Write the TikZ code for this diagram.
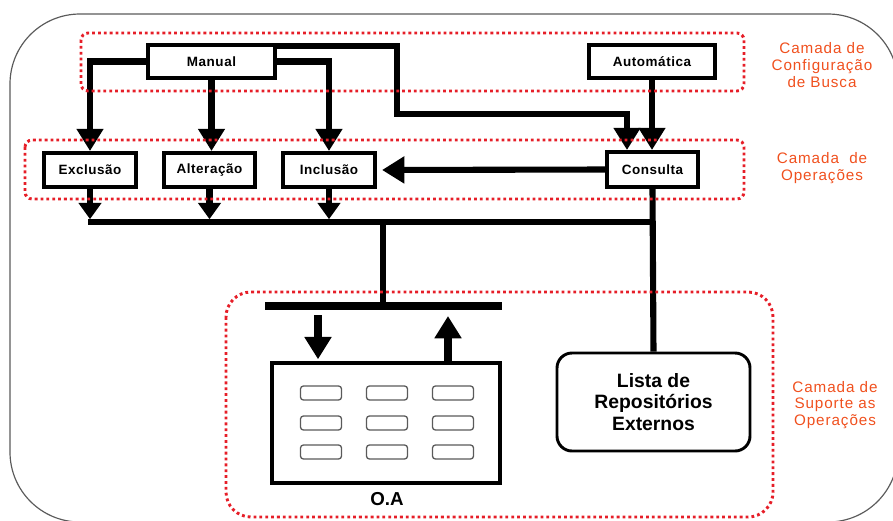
\documentclass[tikz,border=0pt]{standalone}
\usepackage{fontspec}
\setmainfont{Liberation Sans}
\usetikzlibrary{arrows.meta}
\definecolor{rougeCamada}{RGB}{230,30,40}
\definecolor{orangeTexte}{RGB}{240,80,30}
\definecolor{grisBord}{RGB}{90,90,90}
\begin{document}
\begin{tikzpicture}[x=0.03cm,y=-0.03cm]
	% Styles (MODIFIABLES)
	\tikzstyle{fleche}=[line width=5.2pt,-{Triangle[width=22pt,length=19pt]}]
	\tikzstyle{flechecourte}=[line width=5.2pt,-{Triangle[width=19pt,length=14pt]},shorten >=2.4pt]
	\tikzstyle{trait}=[line width=5.2pt]
	\tikzstyle{bloco}=[draw,line width=3.4pt,fill=white,inner sep=0pt,font=\bfseries\fontsize{11.5}{13}\selectfont\addfontfeature{LetterSpace=4}]
	\tikzstyle{camada}=[draw=rougeCamada,line width=2.5pt,dash pattern=on 2.4pt off 2.6pt]
	\tikzstyle{commentaire}=[text=orangeTexte,align=center,font=\fontsize{13}{14.2}\selectfont\addfontfeature{LetterSpace=6}]
	\tikzstyle{mini}=[draw=grisBord,line width=1.1pt,rounded corners=2.5pt,minimum width=1.23cm,minimum height=0.42cm]
	% Cadre
	\useasboundingbox (0,0) rectangle (893,520);
	\clip (0,0) rectangle (893,520);
	\draw[grisBord,line width=1pt,rounded corners=2.1cm] (10,14) rectangle (898,522);
	% Noeuds
	\node[bloco,minimum width=3.81cm,minimum height=0.99cm] (Man) at (211.5,61.5) {Manual};
	\node[bloco,minimum width=3.78cm,minimum height=0.99cm] (Auto) at (652,61.5) {Automática};
	\node[bloco,minimum width=2.76cm,minimum height=1.02cm] (Excl) at (90,170) {Exclusão};
	\node[bloco,minimum width=2.73cm,minimum height=1.02cm] (Alt) at (209.5,170) {Alteração};
	\node[bloco,minimum width=2.76cm,minimum height=1.02cm] (Incl) at (329,170) {Inclusão};
	\node[bloco,minimum width=2.73cm,minimum height=1.05cm] (Cons) at (652.5,169.5) {Consulta};
	\node[bloco,minimum width=6.84cm,minimum height=3.6cm] (OA) at (386,423) {};
	\node[font=\bfseries\fontsize{16}{18}\selectfont] (OAlbl) at (387,499) {O.A};
	\node[draw,line width=2.5pt,rounded corners=0.45cm,minimum width=5.79cm,minimum height=2.94cm,
		align=center,font=\bfseries\fontsize{16.5}{18.5}\selectfont] (Lista) at (653.5,402) {Lista de\\Repositórios\\Externos};
	\foreach \col/\cx in {1/321,2/387,3/453}
		\foreach \lin/\cy in {1/393,2/423,3/452}
			\node[mini] (s\col\lin) at (\cx,\cy) {};
	%
	\coordinate (m1) at (397,46);
	\coordinate (m2) at (397,114);
	\coordinate (b1) at (88,222);
	\coordinate (t1) at (383,222);
	\coordinate (t2) at (383,306);
	\coordinate (e1) at (265,306);
	\coordinate (e2) at (502,306);
	\coordinate (d1) at (318,315);
	\coordinate (u1) at (448,316);
	% Arcs
	\draw[fleche] (Man.west) -| (Excl.north);
	\draw[fleche] (Man.south) -- (Man.south |- Alt.north);
	\draw[fleche] (Man.east) -| (Incl.north);
	\draw[fleche] (Man.east |- m1) -- (m1) -- (m2) -| ([xshift=-0.765cm]Cons.north);
	\draw[fleche] (Auto.south) -- (Auto.south |- Cons.north);
	\draw[fleche,shorten >=4.3pt] (Cons.west) -- (Incl.east);
	\draw[flechecourte] (Excl.south) -- (Excl.south |- b1);
	\draw[flechecourte] (Alt.south) -- (Alt.south |- b1);
	\draw[flechecourte] (Incl.south) -- (Incl.south |- b1);
	\draw[trait] (b1) -- (Cons.south |- b1);
	\draw[trait] (Cons.south) -- (Lista.north);
	\draw[trait] (t1) -- (t2);
	\draw[trait,line width=6pt] (e1) -- (e2);
	\draw[fleche,line width=6pt,shorten >=1.5pt] (d1) -- (d1 |- OA.north);
	\draw[fleche,line width=6pt] (OA.north -| u1) -- (u1);
	% Camadas
	\draw[camada,rounded corners=6pt] (81,33) rectangle (744,91);
	\draw[camada,rounded corners=6pt] (25,140) rectangle (744,199);
	\draw[camada,rounded corners=0.75cm] (226,292) rectangle (773,517);
	\node[commentaire] (cConf) at (822,65) {Camada de\\Configuração\\de Busca};
	\node[commentaire] (cOper) at (822,168) {Camada\ \ de\\Operações};
	\node[commentaire] (cSup) at (835,405) {Camada de\\Suporte as\\Operações};
\end{tikzpicture}
\end{document}
